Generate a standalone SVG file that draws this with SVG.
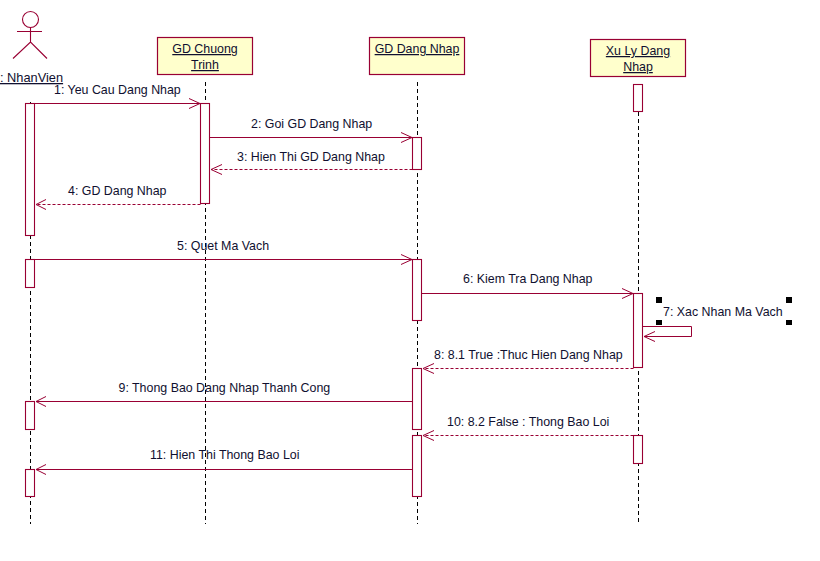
<svg xmlns="http://www.w3.org/2000/svg" width="820" height="561" viewBox="0 0 820 561">
<style>
text{font-family:"Liberation Sans",Arial,sans-serif;font-size:12.4px;fill:#101030}
.m{text-anchor:middle}
.u{text-decoration:underline}
.box{fill:#ffffcc;stroke:#990033;stroke-width:1.2}
.act{fill:#fff;stroke:#990033;stroke-width:1.1}
.life{stroke:#000;stroke-width:1;stroke-dasharray:4 3;fill:none}
.msg{stroke:#990033;stroke-width:1;fill:none}
.ret{stroke:#990033;stroke-width:1;stroke-dasharray:3 2;fill:none}
.head{stroke:#990033;stroke-width:1;fill:none}
</style>
<rect width="820" height="561" fill="#fff"/>
<g id="lifelines">
<path class="life" d="M30.500 102V524"/>
<path class="life" d="M205.500 82V524"/>
<path class="life" d="M417.500 82V524"/>
<path class="life" d="M638.500 112V524"/>
</g>
<g id="nhanvien">
<circle cx="30.500" cy="19.500" r="8" fill="none" stroke="#990033" stroke-width="1.1"/>
<path d="M30.500 28V42M17 31.500H42M13 58.500L30.500 42L47 58.500" fill="none" stroke="#990033" stroke-width="1.1"/>
<text x="0" y="82" class="u" style="font-size:12.8px">: NhanVien</text>
<rect class="act" x="25.500" y="103.500" width="9" height="132"/>
<rect class="act" x="25.500" y="259.500" width="9" height="28"/>
<rect class="act" x="25.500" y="401.500" width="9" height="28"/>
<rect class="act" x="25.500" y="469.500" width="9" height="27"/>
</g>
<g id="gd-chuong-trinh">
<rect class="box" x="157.500" y="37.500" width="95" height="37"/>
<text x="205" y="53" class="m u">GD Chuong </text>
<text x="205" y="69" class="m u">Trinh</text>
<rect class="act" x="200.500" y="103.500" width="9" height="100"/>
</g>
<g id="gd-dang-nhap">
<rect class="box" x="369.500" y="37.500" width="95" height="37"/>
<text x="417" y="53" class="m u">GD Dang Nhap</text>
<rect class="act" x="412.500" y="137.500" width="9" height="32"/>
<rect class="act" x="412.500" y="259.500" width="9" height="61"/>
<rect class="act" x="412.500" y="368.500" width="9" height="61"/>
<rect class="act" x="412.500" y="435.500" width="9" height="61"/>
</g>
<g id="xu-ly-dang-nhap">
<rect class="box" x="590.500" y="39.500" width="95" height="37"/>
<text x="638" y="55" class="m u">Xu Ly Dang </text>
<text x="638" y="71" class="m u">Nhap</text>
<rect class="act" x="633.500" y="84.500" width="9" height="27"/>
<rect class="act" x="633.500" y="293.500" width="9" height="74"/>
<rect class="act" x="633.500" y="435.500" width="9" height="28"/>
</g>
<g id="connectors">
<path class="msg" d="M34.500 103.500H200"/><path class="head" d="M189 98.500L200 103.500L189 108.500"/>
<path class="msg" d="M209.500 137.500H412"/><path class="head" d="M401 132.500L412 137.500L401 142.500"/>
<path class="ret" d="M412.500 169.500H211"/><path class="head" d="M222 164.500L211 169.500L222 174.500"/>
<path class="ret" d="M200.500 204.500H36"/><path class="head" d="M46 199.500L36 204.500L46 209.500"/>
<path class="msg" d="M34.500 259.500H412"/><path class="head" d="M401 254.500L412 259.500L401 264.500"/>
<path class="msg" d="M421.500 293.500H633"/><path class="head" d="M622 288.500L633 293.500L622 298.500"/>
<path class="msg" d="M642.500 326.500H691.500V336.500H644"/><path class="head" d="M655 331.500L644 336.500L655 341.500"/>
<path class="ret" d="M633.500 368.500H423"/><path class="head" d="M434 363.500L423 368.500L434 373.500"/>
<path class="msg" d="M412.500 401.500H36"/><path class="head" d="M46 396.500L36 401.500L46 406.500"/>
<path class="ret" d="M633.500 435.500H423"/><path class="head" d="M434 430.500L423 435.500L434 440.500"/>
<path class="msg" d="M412.500 469.500H36"/><path class="head" d="M46 464.500L36 469.500L46 474.500"/>
</g>
<g id="labels">
<text x="54" y="94">1: Yeu Cau Dang Nhap</text>
<text x="251" y="128">2: Goi GD Dang Nhap</text>
<text x="237" y="161">3: Hien Thi GD Dang Nhap</text>
<text x="68" y="195">4: GD Dang Nhap</text>
<text x="177" y="250">5: Quet Ma Vach</text>
<text x="463" y="283">6: Kiem Tra Dang Nhap</text>
<text x="663" y="316">7: Xac Nhan Ma Vach</text>
<text x="434" y="359">8: 8.1 True :Thuc Hien Dang Nhap</text>
<text x="118.500" y="392">9: Thong Bao Dang Nhap Thanh Cong</text>
<text x="447" y="426">10: 8.2 False : Thong Bao Loi</text>
<text x="150" y="459">11: Hien Thi Thong Bao Loi</text>
</g>
<g id="selection-handles" fill="#000">
<rect x="656" y="297" width="6" height="6"/><rect x="786" y="297" width="6" height="6"/>
<rect x="656" y="320" width="6" height="5"/><rect x="786" y="320" width="6" height="5"/>
</g>
</svg>
